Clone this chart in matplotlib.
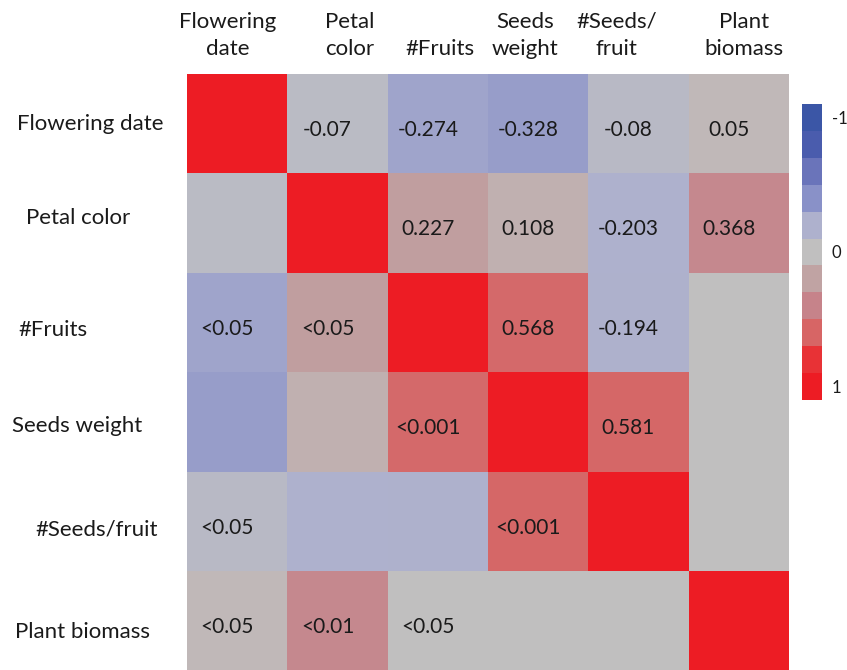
import numpy as np
import matplotlib.pyplot as plt
from matplotlib.colors import LinearSegmentedColormap, ListedColormap, BoundaryNorm
from matplotlib.cm import ScalarMappable

plt.rcParams['font.family'] = ['Lato', 'DejaVu Sans']

row_labels = ["Flowering date", "Petal color", "#Fruits", "Seeds weight", "#Seeds/fruit", "Plant biomass"]
col_labels = ["Flowering\ndate", "Petal\ncolor", "#Fruits", "Seeds\nweight", "#Seeds/\nfruit", "Plant\nbiomass"]

# correlation coefficients (upper triangle), nan = not significant (drawn grey)
nan = np.nan
r_upper = [
    [1, -0.07, -0.274, -0.328, -0.08, 0.05],
    [nan, 1, 0.227, 0.108, -0.203, 0.368],
    [nan, nan, 1, 0.568, -0.194, nan],
    [nan, nan, nan, 1, 0.581, nan],
    [nan, nan, nan, nan, 1, nan],
    [nan, nan, nan, nan, nan, 1],
]
# p values (lower triangle)
p_lower = [
    ["", "", "", "", "", ""],
    ["", "", "", "", "", ""],
    ["<0.05", "<0.05", "", "", "", ""],
    ["", "", "<0.001", "", "", ""],
    ["<0.05", "", "", "<0.001", "", ""],
    ["<0.05", "<0.01", "<0.05", "", "", ""],
]
cbar_ticks = [-1, 0, 1]

# colour scale, blue (-1) -> grey (0) -> red (1)
anchor_colors = ['#3b56a6', '#4a5cad', '#6a74ba', '#8a92c8', '#aeb1cd', '#c0c0c0',
                 '#c0a3a3', '#c6848b', '#d76565', '#e83236', '#ed1c24']
cmap = LinearSegmentedColormap.from_list('bgr', anchor_colors)

n = len(row_labels)
R = np.array(r_upper, dtype=float)
C = np.zeros((n, n))
for i in range(n):
    for j in range(n):
        v = R[min(i, j), max(i, j)]
        C[i, j] = 0 if np.isnan(v) else v

fig = plt.figure(figsize=(8.47, 6.7), dpi=100)
W, H = 847, 670
ax = fig.add_axes([187 / W, 1 - 671 / H, 602 / W, 597 / H])
ax.imshow(C, cmap=cmap, vmin=-1, vmax=1, aspect='auto', interpolation='nearest')
ax.set_xlim(-0.5, n - 0.5)
ax.set_ylim(n - 0.5, -0.5)
ax.set_xticks([])
ax.set_yticks([])
for s in ax.spines.values():
    s.set_visible(False)

fs_cell = 15
fs_lab = 16
txt_color = '#1a1a1a'
for i in range(n):
    for j in range(n):
        if j > i and not np.isnan(R[i, j]):
            s = str(R[i, j])
        elif j < i:
            s = p_lower[i][j]
        else:
            s = ""
        if s:
            ax.text(j - 0.1, i + 0.06, s, ha='center', va='center', fontsize=fs_cell, color=txt_color)

# column headers
col_dx = [-0.09, 0.12, 0.02, -0.13, -0.22, 0.05]
for j, lab in enumerate(col_labels):
    x = (187 + (j + 0.5 + col_dx[j]) * 100.3) / W
    fig.text(x, 1 - 59 / H, lab, ha='center', va='bottom', multialignment='center',
             fontsize=fs_lab, color=txt_color, linespacing=1.45)

# row headers
row_x = [17, 26, 18, 12, 35, 15]
row_y = [124, 218, 330, 426, 529, 632]
for lab, x, y in zip(row_labels, row_x, row_y):
    fig.text(x / W, 1 - y / H, lab, ha='left', va='center', fontsize=fs_lab, color=txt_color)

# discrete colour bar
cax = fig.add_axes([802 / W, 1 - 400 / H, 20 / W, 296 / H])
disc = ListedColormap(cmap(np.linspace(0, 1, 11)))
norm = BoundaryNorm(np.linspace(-1.1, 1.1, 12), 11)
cb = fig.colorbar(ScalarMappable(norm=norm, cmap=disc), cax=cax, ticks=cbar_ticks)
cb.set_ticklabels([str(t) for t in cbar_ticks])
cb.outline.set_visible(False)
cax.minorticks_off()
cax.invert_yaxis()
cax.tick_params(which='both', length=0, labelsize=12, pad=7, colors=txt_color)

fig.savefig('out.png', dpi=100)
